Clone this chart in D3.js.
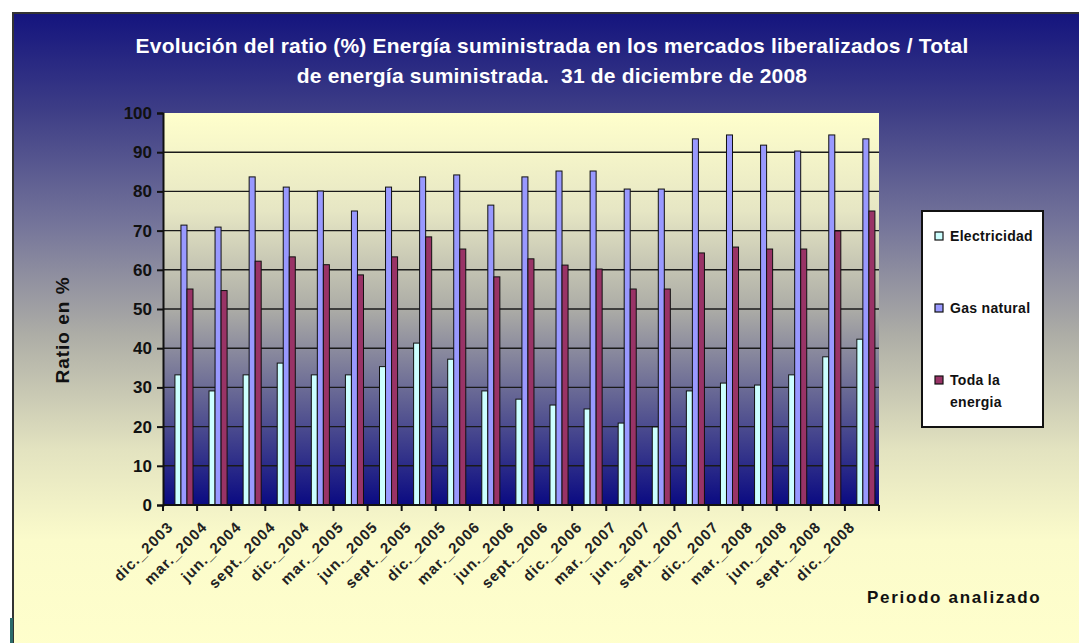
<!DOCTYPE html>
<html>
<head>
<meta charset="utf-8">
<script src="https://cdn.jsdelivr.net/npm/d3@7"></script>
<style>
  body { margin: 0; background: #fff; }
  text { font-family: "Liberation Sans", Arial, sans-serif; }
</style>
</head>
<body>
<div id="chart"></div>
<script>
var svgWidth = 1079;
var svgHeight = 643;

// periods (x axis)
var periods = ["dic._2003", "mar._2004", "jun._2004", "sept._2004", "dic._2004",
  "mar._2005", "jun._2005", "sept._2005", "dic._2005", "mar._2006", "jun._2006",
  "sept._2006", "dic._2006", "mar._2007", "jun._2007", "sept._2007", "dic._2007",
  "mar._2008", "jun._2008", "sept._2008", "dic._2008"];

// series values
var electricidad = [33.2, 29.1, 33.2, 36.2, 33.2, 33.2, 35.3, 41.3, 37.2, 29.1, 27.0,
  25.5, 24.5, 20.9, 19.9, 29.1, 31.1, 30.6, 33.2, 37.8, 42.3];
var gasNatural = [71.4, 70.9, 83.7, 81.1, 80.1, 75.0, 81.1, 83.7, 84.2, 76.5, 83.7,
  85.2, 85.2, 80.6, 80.6, 93.4, 94.4, 91.8, 90.3, 94.4, 93.4];
var todaEnergia = [55.1, 54.7, 62.2, 63.3, 61.3, 58.7, 63.3, 68.4, 65.3, 58.2, 62.8,
  61.2, 60.2, 55.1, 55.1, 64.3, 65.8, 65.3, 65.3, 69.9, 75.0];

var seriesNames = ["Electricidad", "Gas natural", "Toda la energia"];
var seriesColors = ["#ccffff", "#9999ff", "#993366"];
var yTicks = [0, 10, 20, 30, 40, 50, 60, 70, 80, 90, 100];

var plot = { left: 163, right: 879, top: 113, bottom: 505 };

var svg = d3.select("#chart")
  .append("svg")
  .attr("width", svgWidth)
  .attr("height", svgHeight);

var defs = svg.append("defs");

// outer background: navy at the top fading into pale yellow
var bgGrad = defs.append("linearGradient")
  .attr("id", "bgGrad")
  .attr("x1", 0).attr("y1", 0).attr("x2", 0).attr("y2", 1);
[[0, "#14147e"], [0.15, "#3d3d86"], [0.33, "#75759a"], [0.5, "#adada6"],
 [0.68, "#e3e3c0"], [0.82, "#fbfbcb"], [1, "#ffffcc"]].forEach(function(s) {
  bgGrad.append("stop").attr("offset", s[0]).attr("stop-color", s[1]);
});

// plot area: the reverse
var plotGrad = defs.append("linearGradient")
  .attr("id", "plotGrad")
  .attr("x1", 0).attr("y1", 0).attr("x2", 0).attr("y2", 1);
[[0, "#ffffcc"], [0.25, "#e6e6c4"], [0.5, "#acaca6"], [0.75, "#5c5c92"],
 [1, "#0a0a82"]].forEach(function(s) {
  plotGrad.append("stop").attr("offset", s[0]).attr("stop-color", s[1]);
});

svg.append("rect")
  .attr("x", 13).attr("y", 13)
  .attr("width", svgWidth).attr("height", svgHeight)
  .attr("fill", "url(#bgGrad)")
  .attr("stroke", "#333")
  .attr("stroke-width", 2);

svg.append("rect")
  .attr("x", 10).attr("y", 618)
  .attr("width", 3).attr("height", 25)
  .attr("fill", "#2b6b6b");

// Title
var title = svg.append("text")
  .attr("x", 552)
  .attr("text-anchor", "middle")
  .attr("fill", "#ffffff")
  .attr("font-size", "21px")
  .attr("font-weight", "bold")
  .attr("letter-spacing", "0.2px")
  .style("white-space", "pre");
title.append("tspan").attr("x", 552).attr("y", 53)
  .text("Evolución del ratio (%) Energía suministrada en los mercados liberalizados / Total");
title.append("tspan").attr("x", 552).attr("y", 83)
  .text("de energía suministrada.  31 de diciembre de 2008");

// scales
var xScale = d3.scaleBand()
  .domain(periods)
  .range([plot.left, plot.right]);
var bw = xScale.bandwidth();

var xSub = d3.scaleBand()
  .domain(seriesNames)
  .range([0.35 * bw, 0.88 * bw]);

var yScale = d3.scaleLinear()
  .domain([0, 100])
  .range([plot.bottom, plot.top]);

svg.append("rect")
  .attr("x", plot.left).attr("y", plot.top)
  .attr("width", plot.right - plot.left)
  .attr("height", plot.bottom - plot.top)
  .attr("fill", "url(#plotGrad)");

// gridlines
svg.append("g")
  .selectAll("line")
  .data(yTicks.filter(d => d > 0 && d < 100))
  .enter()
  .append("line")
  .attr("x1", plot.left).attr("x2", plot.right)
  .attr("y1", d => yScale(d)).attr("y2", d => yScale(d))
  .attr("stroke", "#1a1a1a")
  .attr("stroke-width", 1.4);

// bars
var data = periods.map(function(p, i) {
  return { period: p, values: [electricidad[i], gasNatural[i], todaEnergia[i]] };
});

var groups = svg.append("g")
  .selectAll("g")
  .data(data)
  .enter()
  .append("g")
  .attr("transform", d => `translate(${xScale(d.period)},0)`);

groups.selectAll("rect")
  .data(d => d.values.map((v, j) => ({ name: seriesNames[j], value: v, color: seriesColors[j] })))
  .enter()
  .append("rect")
  .attr("x", d => xSub(d.name))
  .attr("width", xSub.bandwidth())
  .attr("y", d => yScale(d.value))
  .attr("height", d => yScale(0) - yScale(d.value))
  .attr("fill", d => d.color)
  .attr("stroke", "#111")
  .attr("stroke-width", 1);

// y axis
var leftAxis = d3.axisLeft(yScale)
  .tickValues(yTicks)
  .tickSize(6)
  .tickPadding(5);
var yAxis = svg.append("g")
  .attr("transform", `translate(${plot.left},0)`)
  .call(leftAxis);
yAxis.select(".domain").attr("stroke", "#111").attr("stroke-width", 2);
yAxis.selectAll(".tick line").attr("stroke", "#111").attr("stroke-width", 2);
yAxis.selectAll(".tick text")
  .attr("fill", "#111")
  .attr("font-size", "17px")
  .attr("font-weight", "bold")
  .style("font-family", "'Liberation Sans', Arial, sans-serif");

// x axis line and ticks at category boundaries
svg.append("line")
  .attr("x1", plot.left).attr("x2", plot.right)
  .attr("y1", plot.bottom).attr("y2", plot.bottom)
  .attr("stroke", "#111").attr("stroke-width", 2);

var boundaries = periods.map(p => xScale(p)).concat([plot.right]);
svg.append("g")
  .selectAll("line")
  .data(boundaries)
  .enter()
  .append("line")
  .attr("x1", d => d).attr("x2", d => d)
  .attr("y1", plot.bottom).attr("y2", plot.bottom + 6)
  .attr("stroke", "#111").attr("stroke-width", 2);

// x labels, rotated
svg.append("g")
  .selectAll("text")
  .data(periods)
  .enter()
  .append("text")
  .attr("transform", d => `translate(${xScale(d) + bw / 2 - 6},528) rotate(-45)`)
  .attr("text-anchor", "end")
  .attr("fill", "#222")
  .attr("font-size", "15px")
  .attr("font-weight", "bold")
  .attr("letter-spacing", "1px")
  .text(d => d);

// axis titles
svg.append("text")
  .attr("transform", "translate(69,330) rotate(-90)")
  .attr("text-anchor", "middle")
  .attr("fill", "#111")
  .attr("font-size", "19px")
  .attr("font-weight", "bold")
  .attr("letter-spacing", "1px")
  .text("Ratio en %");

svg.append("text")
  .attr("x", 867).attr("y", 603)
  .attr("fill", "#111")
  .attr("font-size", "17px")
  .attr("font-weight", "bold")
  .attr("letter-spacing", "1.7px")
  .text("Periodo analizado");

// legend
var legend = svg.append("g");
legend.append("rect")
  .attr("x", 922).attr("y", 211)
  .attr("width", 121).attr("height", 216)
  .attr("fill", "#ffffff")
  .attr("stroke", "#111")
  .attr("stroke-width", 2);

var legendRows = [
  { lines: ["Electricidad"], y: 236 },
  { lines: ["Gas natural"], y: 308 },
  { lines: ["Toda la", "energia"], y: 380 }
];

legendRows.forEach(function(row, i) {
  legend.append("rect")
    .attr("x", 935).attr("y", row.y - 4)
    .attr("width", 8).attr("height", 8)
    .attr("fill", seriesColors[i])
    .attr("stroke", "#111")
    .attr("stroke-width", 1.2);
  row.lines.forEach(function(line, k) {
    legend.append("text")
      .attr("x", 950)
      .attr("y", row.y + 5 + k * 22)
      .attr("fill", "#111")
      .attr("font-size", "14px")
      .attr("font-weight", "bold")
      .attr("letter-spacing", "0.3px")
      .text(line);
  });
});
</script>
</body>
</html>
